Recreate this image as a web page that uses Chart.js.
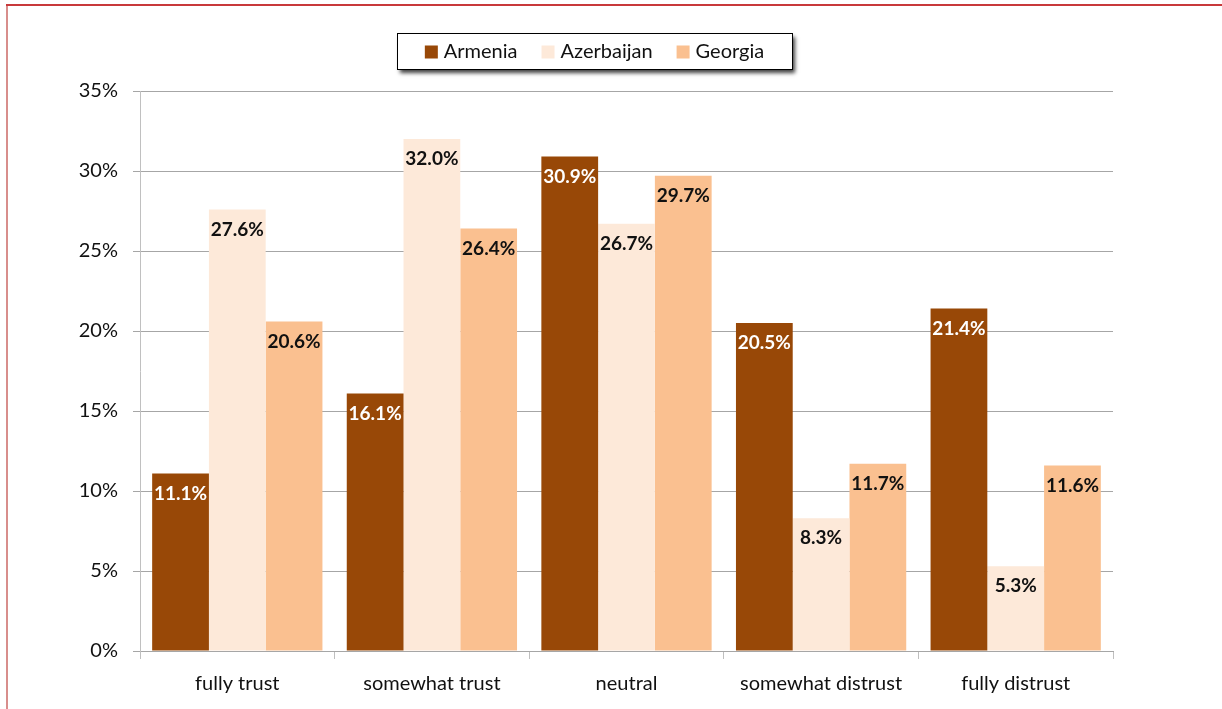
<!DOCTYPE html>
<html>
<head>
<meta charset="utf-8">
<script src="https://cdn.jsdelivr.net/npm/chart.js@4/dist/chart.umd.min.js"></script>
<style>
html,body{margin:0;padding:0;background:#fff;}
#wrap{width:1222px;height:709px;position:relative;}
</style>
</head>
<body>
<div id="wrap"><canvas id="c"></canvas></div>
<script>
const categories = ['fully trust', 'somewhat trust', 'neutral', 'somewhat distrust', 'fully distrust'];
const seriesNames = ['Armenia', 'Azerbaijan', 'Georgia'];
const armenia = [11.1, 16.1, 30.9, 20.5, 21.4];
const azerbaijan = [27.6, 32.0, 26.7, 8.3, 5.3];
const georgia = [20.6, 26.4, 29.7, 11.7, 11.6];
const yTicks = [0, 5, 10, 15, 20, 25, 30, 35];

const FONT = 'Lato, "Open Sans", sans-serif';
const colors = ['#984807', '#FDE9D9', '#FAC090'];
const labelColors = ['#ffffff', '#111111', '#111111'];

const framePlugin = {
  id: 'frame',
  beforeDraw(chart) {
    const ctx = chart.ctx;
    ctx.save();
    ctx.fillStyle = '#fff';
    ctx.fillRect(0, 0, chart.width, chart.height);
    ctx.lineWidth = 2;
    ctx.strokeStyle = '#d88e8c';
    ctx.beginPath(); ctx.moveTo(7, 5); ctx.lineTo(7, chart.height); ctx.stroke();
    ctx.strokeStyle = '#c8393b';
    ctx.beginPath(); ctx.moveTo(6, 5); ctx.lineTo(chart.width, 5); ctx.stroke();
    ctx.restore();
  }
};

const labelPlugin = {
  id: 'barLabels',
  afterDatasetsDraw(chart) {
    const ctx = chart.ctx;
    ctx.save();
    ctx.font = 'bold 19px ' + FONT;
    ctx.textAlign = 'center';
    ctx.textBaseline = 'middle';
    chart.data.datasets.forEach((ds, i) => {
      const meta = chart.getDatasetMeta(i);
      meta.data.forEach((bar, j) => {
        ctx.fillStyle = labelColors[i];
        ctx.fillText(ds.data[j].toFixed(1) + '%', bar.x, bar.y + 20);
      });
    });
    ctx.restore();
  }
};

const legendPlugin = {
  id: 'boxLegend',
  afterDraw(chart) {
    const ctx = chart.ctx;
    ctx.save();
    const bx = 397, by = 33, bw = 395, bh = 36;
    ctx.shadowColor = 'rgba(0,0,0,0.75)';
    ctx.shadowBlur = 4;
    ctx.shadowOffsetX = 3;
    ctx.shadowOffsetY = 4;
    ctx.fillStyle = '#fff';
    ctx.fillRect(bx, by, bw, bh);
    ctx.shadowColor = 'transparent';
    ctx.lineWidth = 1;
    ctx.strokeStyle = '#000';
    ctx.strokeRect(bx + 0.5, by + 0.5, bw, bh);
    ctx.font = '20px ' + FONT;
    ctx.textBaseline = 'middle';
    ctx.textAlign = 'left';
    const sq = 13, gapT = 6, gapI = 24;
    const widths = chart.data.datasets.map(d => ctx.measureText(d.label).width);
    let total = 0;
    widths.forEach((w, i) => { total += sq + gapT + w + (i < widths.length - 1 ? gapI : 0); });
    let x = bx + (bw - total) / 2;
    const cy = by + bh / 2 + 1;
    chart.data.datasets.forEach((d, i) => {
      ctx.fillStyle = colors[i];
      ctx.fillRect(x, cy - sq / 2, sq, sq);
      ctx.fillStyle = '#111';
      ctx.fillText(d.label, x + sq + gapT, cy);
      x += sq + gapT + widths[i] + gapI;
    });
    ctx.restore();
  }
};

new Chart(document.getElementById('c'), {
  type: 'bar',
  data: {
    labels: categories,
    datasets: [
      { label: seriesNames[0], data: armenia, backgroundColor: colors[0] },
      { label: seriesNames[1], data: azerbaijan, backgroundColor: colors[1] },
      { label: seriesNames[2], data: georgia, backgroundColor: colors[2] }
    ]
  },
  options: {
    responsive: true,
    maintainAspectRatio: false,
    animation: false,
    devicePixelRatio: 1,
    layout: { padding: { left: 0, right: 109, top: 91, bottom: 0 } },
    datasets: { bar: { categoryPercentage: 0.875, barPercentage: 1.0 } },
    plugins: {
      legend: { display: false },
      tooltip: { enabled: false }
    },
    scales: {
      x: {
        afterFit(s) { s.height = 58; },
        grid: { offset: true, drawOnChartArea: false, drawTicks: true, tickLength: 8, color: '#bfbfbf', lineWidth: 1 },
        border: { display: true, color: '#a6a6a6' },
        ticks: { font: { family: FONT, size: 20 }, color: '#111', padding: 13, maxRotation: 0 }
      },
      y: {
        min: 0, max: 35,
        afterFit(s) { s.width = 140; },
        afterBuildTicks(s) { s.ticks = yTicks.map(v => ({ value: v })); },
        grid: { color: '#a6a6a6', lineWidth: 1, tickLength: 7 },
        border: { display: true, color: '#c0c0c0' },
        ticks: { stepSize: 5, font: { family: FONT, size: 20 }, color: '#111', padding: 15, callback: v => v + '%' }
      }
    }
  },
  plugins: [framePlugin, labelPlugin, legendPlugin]
});
</script>
</body>
</html>
